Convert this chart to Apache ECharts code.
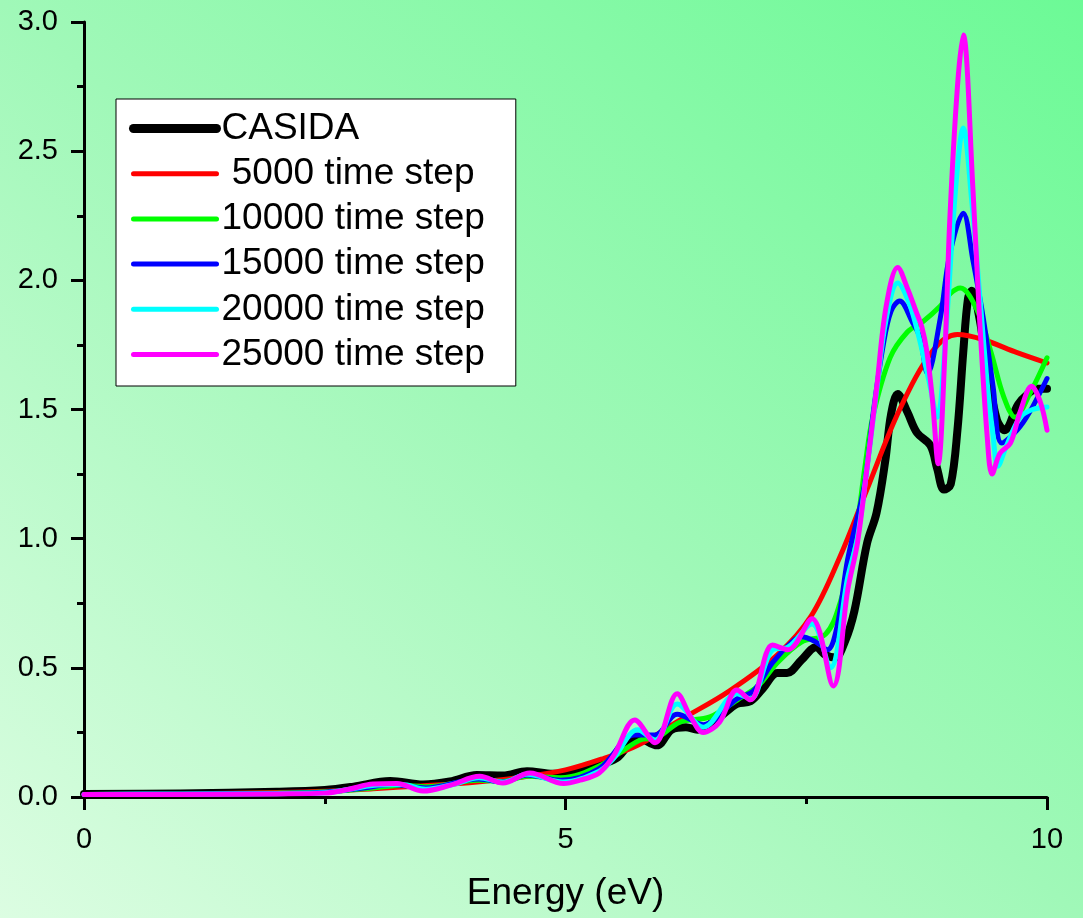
<!DOCTYPE html>
<html><head><meta charset="utf-8">
<script src="https://cdn.jsdelivr.net/npm/echarts@6/dist/echarts.min.js"></script>
<style>
html,body{margin:0;padding:0;}
#c{width:1083px;height:918px;background:linear-gradient(to top right,#dcfde2 0%,#a0f8b8 50%,#6cfa96 100%);}
</style></head>
<body><div id="c"></div>
<script>
const seriesNames = ['CASIDA', ' 5000 time step', '10000 time step', '15000 time step', '20000 time step', '25000 time step'];
const seriesColors = ['#000000', '#ff0000', '#00ff00', '#0000ff', '#00ffff', '#ff00ff'];
const xTicks = [0, 5, 10];
const yTicks = [0, 0.5, 1.0, 1.5, 2.0, 2.5, 3.0];

const casida = [[0,0.012],[1,0.014],[2,0.02],[2.5,0.027],[2.8,0.04],[3.18,0.062],[3.52,0.048],[3.8,0.06],[4.08,0.085],[4.35,0.083],[4.6,0.1],[4.87,0.09],[5.05,0.095],[5.3,0.12],[5.53,0.15],[5.75,0.23],[5.95,0.2],[6.1,0.26],[6.25,0.27],[6.37,0.26],[6.6,0.31],[6.78,0.36],[6.92,0.37],[7.05,0.42],[7.2,0.48],[7.3,0.48],[7.45,0.53],[7.6,0.58],[7.7,0.55],[7.8,0.54],[7.9,0.6],[8.0,0.72],[8.13,0.98],[8.23,1.1],[8.32,1.3],[8.38,1.48],[8.45,1.56],[8.55,1.49],[8.65,1.41],[8.79,1.36],[8.86,1.27],[8.93,1.19],[9.0,1.21],[9.07,1.42],[9.13,1.72],[9.18,1.93],[9.22,1.96],[9.3,1.85],[9.38,1.65],[9.48,1.46],[9.56,1.42],[9.7,1.52],[9.8,1.56],[9.9,1.58],[10,1.58]];
const ts5000 = [[0,0.01],[1,0.012],[2,0.017],[2.5,0.022],[3,0.032],[3.5,0.043],[4,0.055],[4.5,0.075],[5,0.105],[5.4,0.15],[5.75,0.2],[6.2,0.3],[6.7,0.41],[7.2,0.55],[7.55,0.7],[7.85,0.93],[8.13,1.19],[8.47,1.5],[8.82,1.73],[9.07,1.79],[9.34,1.77],[9.69,1.72],[10,1.68]];
const ts10000 = [[0,0.01],[1,0.012],[2,0.015],[2.5,0.02],[3,0.035],[3.3,0.045],[3.55,0.04],[4.1,0.065],[4.35,0.06],[4.6,0.08],[4.95,0.075],[5.35,0.12],[5.77,0.22],[5.95,0.23],[6.19,0.29],[6.5,0.31],[6.8,0.38],[7.0,0.43],[7.2,0.52],[7.45,0.6],[7.7,0.63],[7.85,0.75],[7.99,0.96],[8.11,1.28],[8.19,1.47],[8.37,1.7],[8.55,1.8],[8.71,1.84],[8.89,1.9],[9.0,1.95],[9.1,1.97],[9.28,1.88],[9.42,1.72],[9.55,1.55],[9.67,1.47],[9.82,1.56],[10,1.7]];
const ts15000 = [[0,0.01],[1,0.012],[2,0.014],[2.5,0.018],[2.9,0.035],[3.2,0.048],[3.55,0.035],[4.1,0.07],[4.35,0.058],[4.6,0.085],[4.95,0.065],[5.35,0.11],[5.72,0.24],[5.93,0.24],[6.16,0.32],[6.43,0.28],[6.78,0.38],[6.95,0.41],[7.15,0.52],[7.35,0.6],[7.45,0.62],[7.6,0.6],[7.72,0.57],[7.82,0.66],[7.93,0.92],[8.1,1.2],[8.2,1.5],[8.3,1.75],[8.38,1.88],[8.47,1.92],[8.6,1.84],[8.68,1.78],[8.76,1.64],[8.89,1.85],[8.99,2.1],[9.13,2.26],[9.23,2.08],[9.34,1.85],[9.44,1.59],[9.53,1.37],[9.69,1.42],[9.82,1.49],[10,1.62]];
const ts20000 = [[0,0.01],[1,0.011],[2,0.013],[2.5,0.016],[2.8,0.033],[3.05,0.046],[3.3,0.048],[3.55,0.03],[3.85,0.05],[4.1,0.075],[4.35,0.057],[4.6,0.088],[4.97,0.058],[5.35,0.1],[5.5,0.15],[5.75,0.26],[5.93,0.22],[6.16,0.36],[6.43,0.27],[6.78,0.4],[6.92,0.38],[7.15,0.57],[7.31,0.58],[7.56,0.67],[7.75,0.5],[7.93,0.85],[8.03,1.0],[8.13,1.27],[8.23,1.57],[8.33,1.85],[8.45,1.99],[8.57,1.91],[8.67,1.78],[8.78,1.6],[8.86,1.47],[8.95,1.8],[9.05,2.35],[9.13,2.59],[9.22,2.3],[9.3,1.95],[9.38,1.6],[9.44,1.4],[9.49,1.28],[9.58,1.36],[9.72,1.47],[9.85,1.5],[10,1.51]];
const ts25000 = [[0,0.01],[1,0.01],[2,0.012],[2.5,0.015],[2.75,0.03],[3.0,0.05],[3.25,0.052],[3.52,0.023],[3.8,0.045],[4.11,0.08],[4.35,0.054],[4.63,0.093],[4.98,0.052],[5.15,0.065],[5.35,0.093],[5.5,0.16],[5.72,0.298],[5.93,0.21],[6.16,0.4],[6.3,0.31],[6.43,0.25],[6.6,0.29],[6.78,0.414],[6.92,0.376],[7.15,0.588],[7.31,0.57],[7.56,0.69],[7.78,0.43],[7.93,0.8],[8.03,0.98],[8.13,1.27],[8.23,1.58],[8.33,1.9],[8.45,2.05],[8.55,1.97],[8.65,1.87],[8.7,1.82],[8.75,1.73],[8.81,1.54],[8.87,1.29],[8.94,1.72],[8.99,2.23],[9.07,2.75],[9.13,2.95],[9.23,2.36],[9.3,1.85],[9.38,1.39],[9.43,1.25],[9.51,1.33],[9.62,1.37],[9.72,1.49],[9.84,1.59],[9.93,1.53],[10,1.42]];

const allData = [casida, ts5000, ts10000, ts15000, ts20000, ts25000];
const widths = [8, 5, 5, 5, 5, 5];
const legendWidths = [9, 5, 5, 5, 5, 5];
const FONT = 'Arial, "Liberation Sans", sans-serif';

const chart = echarts.init(document.getElementById('c'));
chart.setOption({
  animation: false,
  backgroundColor: 'transparent',
  grid: {left: 84, right: 36, top: 22, bottom: 121, containLabel: false},
  xAxis: {
    type: 'value', min: 0, max: 10, interval: 5,
    name: 'Energy (eV)', nameLocation: 'middle', nameGap: 78,
    nameTextStyle: {fontSize: 37, color: '#000', fontFamily: FONT},
    axisLine: {show: true, lineStyle: {color: '#000', width: 3}},
    axisTick: {show: true, inside: false, length: 13, lineStyle: {color: '#000', width: 3}},
    minorTick: {show: true, splitNumber: 2, length: 7, lineStyle: {color: '#000', width: 3}},
    axisLabel: {fontSize: 29, color: '#000', fontFamily: FONT, margin: 28,
      formatter: v => xTicks.includes(v) ? String(v) : ''},
    splitLine: {show: false}
  },
  yAxis: {
    type: 'value', min: 0, max: 3, interval: 0.5,
    axisLine: {show: true, lineStyle: {color: '#000', width: 3}},
    axisTick: {show: true, inside: false, length: 13, lineStyle: {color: '#000', width: 3}},
    minorTick: {show: true, splitNumber: 2, length: 7, lineStyle: {color: '#000', width: 3}},
    axisLabel: {fontSize: 29, color: '#000', fontFamily: FONT, margin: 26,
      formatter: v => yTicks.includes(v) ? v.toFixed(1) : ''},
    splitLine: {show: false}
  },
  legend: {
    orient: 'vertical', left: 116, top: 99,
    backgroundColor: '#ffffff', borderColor: '#000', borderWidth: 1, borderRadius: 0,
    padding: [11, 31, 13, 13],
    itemWidth: 83, itemHeight: 14, itemGap: 8.2,
    itemStyle: {opacity: 0},
    textStyle: {fontSize: 37, color: '#000', fontFamily: FONT},
    data: seriesNames.map((n, i) => ({
      name: n,
      lineStyle: {width: legendWidths[i], color: seriesColors[i], cap: 'round'}
    }))
  },
  series: allData.map((d, i) => ({
    name: seriesNames[i],
    type: 'line',
    data: d,
    smooth: 0.35,
    showSymbol: false,
    symbol: 'none',
    color: seriesColors[i],
    lineStyle: {color: seriesColors[i], width: widths[i], cap: 'round', join: 'round'}
  }))
});
</script></body></html>
